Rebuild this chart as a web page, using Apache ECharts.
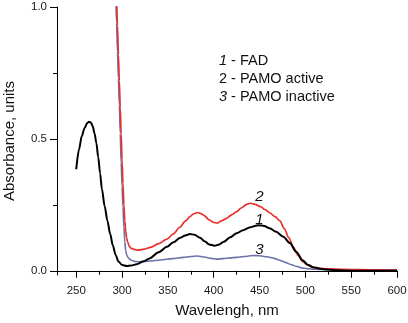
<!DOCTYPE html>
<html>
<head>
<meta charset="utf-8">
<script src="https://cdn.jsdelivr.net/npm/echarts@6/dist/echarts.min.js"></script>
<style>html,body{margin:0;padding:0;background:#fff}#c{width:408px;height:323px}</style>
</head>
<body>
<div id="c"></div>
<script>
// Wavelength (nm) / absorbance samples
const fadWl  = [250,253,256,259,262,264,266,268,270,272,274,276,278,281,284,287,290,293,296,300,305,310,316,323,330,340,349,356,363,369,374,379,385,390,395,401,406,411,418,425,432,440,445,449,455,461,468,476,483,490,497,503,510,520,535,550,575,600];
const fadAbs = [0.385,0.46,0.51,0.54,0.56,0.565,0.562,0.548,0.52,0.483,0.43,0.37,0.31,0.245,0.19,0.14,0.095,0.06,0.035,0.022,0.018,0.02,0.025,0.035,0.047,0.07,0.091,0.108,0.124,0.134,0.139,0.137,0.125,0.112,0.1,0.095,0.1,0.11,0.127,0.142,0.154,0.165,0.17,0.173,0.17,0.161,0.148,0.129,0.105,0.072,0.04,0.022,0.012,0.006,0.002,0.0,0.0,0.0];

const activeWl  = [294,295,296,297,298,299,300,301,302,303,304,305,306,308,310,314,318,324,331,340,349,356,363,369,374,378,382,386,390,395,400,404,409,414,420,425,430,436,440,445,451,456,461,467,472,477,482,487,492,497,502,508,515,525,540,560,580,600];
const activeAbs = [1.05,0.93,0.82,0.72,0.62,0.52,0.42,0.33,0.25,0.19,0.15,0.125,0.11,0.092,0.085,0.08,0.078,0.082,0.089,0.103,0.12,0.14,0.165,0.188,0.205,0.216,0.221,0.217,0.208,0.193,0.183,0.181,0.19,0.199,0.213,0.224,0.238,0.252,0.256,0.252,0.243,0.232,0.22,0.205,0.19,0.16,0.125,0.09,0.058,0.035,0.022,0.013,0.009,0.007,0.005,0.004,0.003,0.003];

const inactiveWl  = [293,294,295,296,297,298,299,300,301,302,303,304,305,307,310,315,320,330,342,355,367,375,382,390,397,403,410,418,425,433,443,450,458,466,472,478,484,490,496,502,510,520,540,560,580,600];
const inactiveAbs = [1.05,0.94,0.83,0.73,0.63,0.52,0.41,0.32,0.24,0.165,0.11,0.075,0.06,0.048,0.04,0.035,0.034,0.037,0.041,0.046,0.051,0.054,0.056,0.052,0.047,0.044,0.046,0.049,0.051,0.054,0.058,0.057,0.053,0.047,0.04,0.032,0.024,0.017,0.011,0.008,0.006,0.005,0.004,0.004,0.003,0.003];

const xMajor = [250,300,350,400,450,500,550,600];
const xMinor = [275,325,375,425,475,525,575];
const yMajor = [0,0.5,1.0];
const yMinor = [0.25,0.75];

const legendLines = [['1',' - FAD'],['2',' - PAMO active'],['3',' - PAMO inactive']];
const curveTags = [
  {name:'2', at:[450, 0.281]},
  {name:'1', at:[450, 0.195]},
  {name:'3', at:[450, 0.081]}
];

const pairs = (xs, ys) => xs.map((x, i) => [x, ys[i]]);
const FONT = 'Liberation Sans, Arial, sans-serif';
const X_MIN = 229, X_MAX = 600, Y_MIN = -0.016, Y_MAX = 1.0;
const grid = {left: 57, right: 11, top: 7, bottom: 48, containLabel: false, outerBoundsMode: 'none'};

function tagPoint(t) {
  return {
    symbol: 'circle', symbolSize: 1, silent: true,
    itemStyle: {color: 'rgba(0,0,0,0)'},
    data: [{coord: t.at, value: 1}],
    label: {show: true, position: 'inside', formatter: t.name, fontStyle: 'italic',
      fontSize: 15, color: '#111', fontFamily: FONT}
  };
}

const chart = echarts.init(document.getElementById('c'), null, {renderer: 'canvas'});
chart.setOption({
  animation: false,
  backgroundColor: '#fff',
  grid: grid,
  xAxis: [
    {type: 'value', min: X_MIN, max: X_MAX,
     name: 'Wavelengh, nm', nameLocation: 'middle', nameGap: 28,
     nameTextStyle: {fontSize: 15, color: '#111', fontFamily: FONT},
     axisLine: {show: true, lineStyle: {color: '#000', width: 1}},
     axisTick: {show: true, length: 7, customValues: xMajor, lineStyle: {color: '#000'}},
     axisLabel: {customValues: xMajor, fontSize: 11.5, color: '#1a1a1a', margin: 10, fontFamily: FONT},
     splitLine: {show: false}},
    {type: 'value', min: X_MIN, max: X_MAX, position: 'bottom',
     axisLine: {show: false},
     axisTick: {show: true, length: 4, customValues: xMinor, lineStyle: {color: '#000'}},
     axisLabel: {show: false}, splitLine: {show: false}}
  ],
  yAxis: [
    {type: 'value', min: Y_MIN, max: Y_MAX,
     name: 'Absorbance, units', nameLocation: 'middle', nameGap: 40, nameRotate: 90,
     nameTextStyle: {fontSize: 15, color: '#111', fontFamily: FONT},
     axisLine: {show: true, lineStyle: {color: '#000', width: 1}},
     axisTick: {show: true, length: 7, customValues: yMajor, lineStyle: {color: '#000'}},
     axisLabel: {customValues: yMajor, fontSize: 11.5, color: '#1a1a1a', margin: 10, fontFamily: FONT,
       formatter: v => v.toFixed(1)},
     splitLine: {show: false}},
    {type: 'value', min: Y_MIN, max: Y_MAX, position: 'left',
     axisLine: {show: false},
     axisTick: {show: true, length: 4, customValues: yMinor, lineStyle: {color: '#000'}},
     axisLabel: {show: false}, splitLine: {show: false}}
  ],
  series: [
    {name: 'PAMO inactive', type: 'line', data: pairs(inactiveWl, inactiveAbs),
     showSymbol: false, smooth: 0.3, smoothMonotone: 'x', clip: true,
     lineStyle: {color: '#6a72a8', width: 1.6}, markPoint: tagPoint(curveTags[2])},
    {name: 'PAMO active', type: 'line', data: pairs(activeWl, activeAbs),
     showSymbol: false, smooth: 0.3, smoothMonotone: 'x', clip: true,
     lineStyle: {color: '#e8312c', width: 1.7}, markPoint: tagPoint(curveTags[0])},
    {name: 'FAD', type: 'line', data: pairs(fadWl, fadAbs),
     showSymbol: false, smooth: 0.3, smoothMonotone: 'x', clip: true,
     lineStyle: {color: '#000', width: 2}, markPoint: tagPoint(curveTags[1])}
  ],
  graphic: legendLines.map((l, i) => ({
    type: 'text', x: 219, y: 61 + i * 18,
    style: {
      text: '{i|' + l[0] + '}' + l[1],
      font: '14.5px ' + FONT, fill: '#111', verticalAlign: 'middle',
      rich: {i: {fontStyle: i === 1 ? 'normal' : 'italic', fontSize: 14.5, fontFamily: FONT, fill: '#111'}}
    }
  }))
});
</script>
</body>
</html>
